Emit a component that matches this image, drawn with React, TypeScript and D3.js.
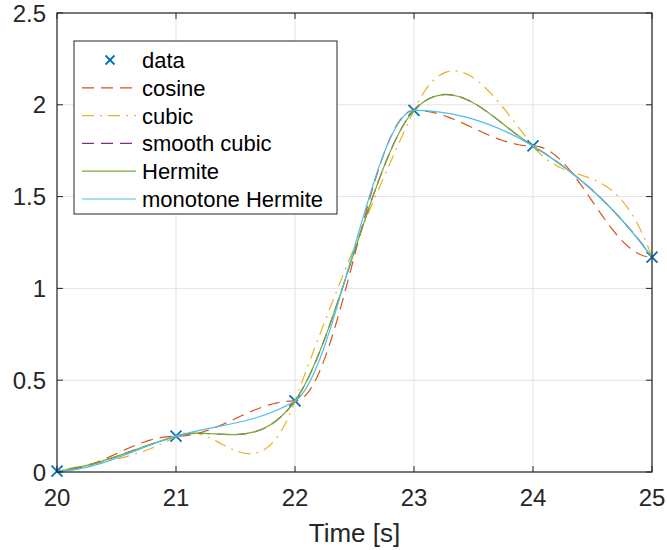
import React from "react";
import * as d3 from "d3";

// Sample times (the series continues just outside the visible 20–25 s window)
const timeValues = [19, 20, 21, 22, 23, 24, 25, 26];
const dataValues = [0.05, 0.005, 0.195, 0.387, 1.97, 1.776, 1.17, 0.0];

const xTicks = [20, 21, 22, 23, 24, 25];
const yTicks = [0, 0.5, 1, 1.5, 2, 2.5];
const xDomain = [20, 25];
const yDomain = [0, 2.5];
const xLabel = "Time [s]";

const seriesNames = ["data", "cosine", "cubic", "smooth cubic", "Hermite", "monotone Hermite"];
const seriesColors = ["#0072BD", "#D95319", "#EDB120", "#7E2F8E", "#77AC30", "#4DBEEE"];
const seriesDash = ["", "12,7", "12,6,2,6", "12,7", "", ""];

const W = 667, H = 550;
const M = { left: 57, right: 15, top: 13, bottom: 78 };

type Interp = (y0: number, y1: number, y2: number, y3: number, mu: number) => number;

const cosineInterp: Interp = (_y0, y1, y2, _y3, mu) => {
  const m2 = (1 - Math.cos(mu * Math.PI)) / 2;
  return y1 * (1 - m2) + y2 * m2;
};
const cubicInterp: Interp = (y0, y1, y2, y3, mu) => {
  const a0 = y3 - y2 - y0 + y1;
  const a1 = y0 - y1 - a0;
  const a2 = y2 - y0;
  const a3 = y1;
  return a0 * mu * mu * mu + a1 * mu * mu + a2 * mu + a3;
};

class InterpCurve {
  _ctx: any; _f: Interp; _steps: number; _pts: number[][] = [];
  constructor(ctx: any, f: Interp, steps: number) { this._ctx = ctx; this._f = f; this._steps = steps; }
  areaStart() {}
  areaEnd() {}
  lineStart() { this._pts = []; }
  point(x: number, y: number) { this._pts.push([+x, +y]); }
  lineEnd() {
    const p = this._pts, n = p.length;
    if (!n) return;
    this._ctx.moveTo(p[0][0], p[0][1]);
    for (let i = 0; i < n - 1; i++) {
      const p0 = p[Math.max(i - 1, 0)], p1 = p[i], p2 = p[i + 1], p3 = p[Math.min(i + 2, n - 1)];
      for (let s = 1; s <= this._steps; s++) {
        const mu = s / this._steps;
        this._ctx.lineTo(p1[0] + (p2[0] - p1[0]) * mu, this._f(p0[1], p1[1], p2[1], p3[1], mu));
      }
    }
  }
}
const makeCurve = (f: Interp, steps = 60) => (ctx: any) => new InterpCurve(ctx, f, steps) as any;

export default function App() {
  const x = d3.scaleLinear().domain(xDomain).range([M.left, W - M.right]);
  const y = d3.scaleLinear().domain(yDomain).range([H - M.bottom, M.top]);
  const pts = timeValues.map((t, i) => ({ t, v: dataValues[i] }));
  const line = (curve: any) =>
    d3.line<{ t: number; v: number }>().x(d => x(d.t)).y(d => y(d.v)).curve(curve)(pts) || "";

  const curves = [
    null,
    line(makeCurve(cosineInterp)),
    line(makeCurve(cubicInterp)),
    line(d3.curveCardinal.tension(0)),
    line(d3.curveCardinal.tension(0)),
    line(d3.curveMonotoneX),
  ];

  const x0 = M.left, x1 = W - M.right, y0 = H - M.bottom, y1 = M.top;
  const axisColor = "#262626";
  const fontFamily = "Liberation Sans, Arial, sans-serif";
  const tickStyle = { fontFamily, fontSize: "24px" };
  const labelStyle = { fontFamily, fontSize: "26px" };
  const legStyle = { fontFamily, fontSize: "22px" };
  const tickLen = 6;

  const visible = pts.filter(d => d.t >= xDomain[0] && d.t <= xDomain[1]);
  const mk = 5.5;

  const leg = { x: 74, y: 41, w: 263, h: 173, rowH: 27.8, first: 60 };

  return (
    <svg width={W} height={H} style={{ position: "absolute", left: 0, top: 0, background: "#fff" }}>
      <defs>
        <clipPath id="plot"><rect x={x0} y={y1} width={x1 - x0} height={y0 - y1} /></clipPath>
      </defs>
      <rect x={0} y={0} width={W} height={H} fill="#fff" />
      {xTicks.map(t => (
        <line key={"gx" + t} x1={x(t)} x2={x(t)} y1={y1} y2={y0} stroke="#e3e3e3" strokeWidth={1} />
      ))}
      {yTicks.map(t => (
        <line key={"gy" + t} x1={x0} x2={x1} y1={y(t)} y2={y(t)} stroke="#e3e3e3" strokeWidth={1} />
      ))}
      {visible.map((d, i) => (
        <g key={"m" + i} stroke={seriesColors[0]} strokeWidth={1.8}>
          <line x1={x(d.t) - mk} y1={y(d.v) - mk} x2={x(d.t) + mk} y2={y(d.v) + mk} />
          <line x1={x(d.t) - mk} y1={y(d.v) + mk} x2={x(d.t) + mk} y2={y(d.v) - mk} />
        </g>
      ))}
      <g clipPath="url(#plot)">
        {curves.map((p, i) =>
          p ? (
            <path key={"c" + i} d={p} fill="none" stroke={seriesColors[i]} strokeWidth={1.2}
              strokeDasharray={seriesDash[i] || undefined} />
          ) : null
        )}
      </g>
      <rect x={x0} y={y1} width={x1 - x0} height={y0 - y1} fill="none" stroke={axisColor} strokeWidth={1.2} />
      {xTicks.map(t => (
        <g key={"tx" + t} stroke={axisColor} strokeWidth={1}>
          <line x1={x(t)} x2={x(t)} y1={y0} y2={y0 - tickLen} />
          <line x1={x(t)} x2={x(t)} y1={y1} y2={y1 + tickLen} />
        </g>
      ))}
      {yTicks.map(t => (
        <g key={"ty" + t} stroke={axisColor} strokeWidth={1}>
          <line x1={x0} x2={x0 + tickLen} y1={y(t)} y2={y(t)} />
          <line x1={x1} x2={x1 - tickLen} y1={y(t)} y2={y(t)} />
        </g>
      ))}
      {xTicks.map(t => (
        <text key={"lx" + t} x={x(t)} y={506} textAnchor="middle" style={tickStyle} fill={axisColor}>{String(t)}</text>
      ))}
      {yTicks.map(t => (
        <text key={"ly" + t} x={46} y={y(t) + 8.5} textAnchor="end" style={tickStyle} fill={axisColor}>{String(t)}</text>
      ))}
      <text x={(x0 + x1) / 2} y={542} textAnchor="middle" style={labelStyle} fill={axisColor}>{xLabel}</text>
      <rect x={leg.x} y={leg.y} width={leg.w} height={leg.h} fill="#fff" stroke={axisColor} strokeWidth={1} />
      {seriesNames.map((name, i) => {
        const cy = leg.first + i * leg.rowH;
        return (
          <g key={"lg" + i}>
            {i === 0 ? (
              <g stroke={seriesColors[0]} strokeWidth={1.8}>
                <line x1={110 - 4.5} y1={cy - 4.5} x2={110 + 4.5} y2={cy + 4.5} />
                <line x1={110 - 4.5} y1={cy + 4.5} x2={110 + 4.5} y2={cy - 4.5} />
              </g>
            ) : (
              <line x1={82} x2={136} y1={cy} y2={cy} stroke={seriesColors[i]} strokeWidth={1.2}
                strokeDasharray={seriesDash[i] || undefined} />
            )}
            <text x={142} y={cy + 8} style={legStyle} fill="#000">{name}</text>
          </g>
        );
      })}
    </svg>
  );
}
